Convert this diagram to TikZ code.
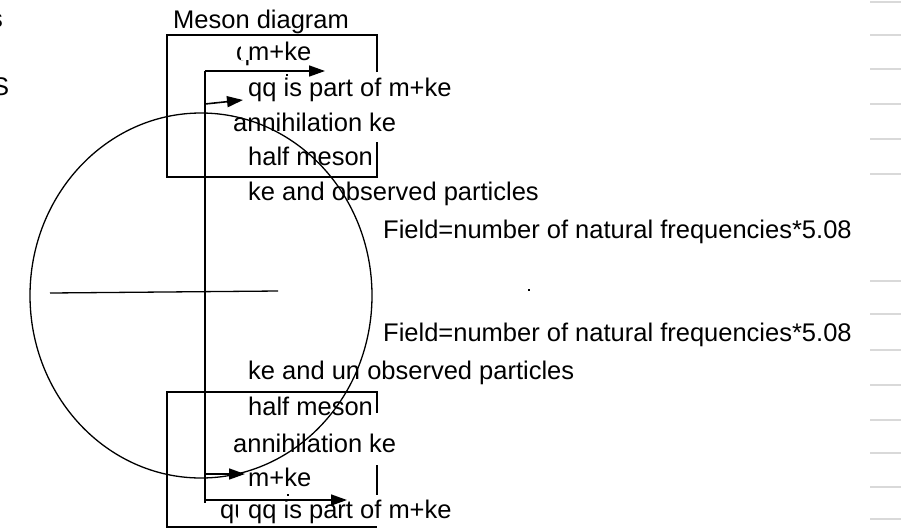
\documentclass[tikz,border=0pt]{standalone}
\usepackage{fontspec}
\setmainfont{Liberation Sans}
\usetikzlibrary{arrows.meta}
\begin{document}
\begin{tikzpicture}[x=1pt, y=-1pt, >={Triangle[length=16pt,width=11pt]},
  line join=miter,
  lbl/.style={anchor=base west, inner sep=0pt, font=\fontsize{25.5}{30}\selectfont},
  cover/.style={lbl, fill=white, inner xsep=#1},
  boxline/.style={line width=2pt},
  conn/.style={->, line width=1.6pt},
  gridmark/.style={draw=black!15, line width=1.4pt}]

  \useasboundingbox (0,0) rectangle (901,531);

  % Coordinates
  \coordinate (Vtop) at (205,71);
  \coordinate (Vkick) at (205,104);
  \coordinate (Vlow) at (205,474);
  \coordinate (Vbase) at (205,500);
  \coordinate (Vbot) at (205,503);
  \coordinate (Ctr) at (201,295.5);

  % 1. Clipped letters at the left edge
  \begin{scope}
    \clip (0,0) rectangle (40,110);
    \node[lbl] (edgeA) at (-10,27) {s};
    \node[lbl] (edgeB) at (-8,95) {S};
  \end{scope}

  % 2. Upper box (right edge broken)
  \draw[boxline] (377,72) -- (377,35) -- (167,35) -- (167,177) -- (377,177) -- (377,142);

  % 3. Lower box (right edge broken)
  \draw[boxline] (377,413) -- (377,392) -- (167,392) -- (167,527) -- (377,527);
  \draw[boxline] (377,465) -- (377,495);

  % 4. Texts
  \node[lbl] (title) at (173,28) {Meson diagram};
  \node[lbl] (hidA) at (236,60) {q};
  \node[cover=7pt] (mkeA) at (241,60) {m+ke};
  \node[lbl] (qqA) at (248,96) {qq is part of m+ke};
  \node[lbl] (annA) at (233,131) {annihilation ke};
  \node[lbl] (halfA) at (248,165) {half meson};
  \node[lbl] (obsA) at (248,200) {ke and observed particles};
  \node[lbl] (fieldA) at (383,238) {Field=number of natural frequencies*5.08};
  \node[lbl] (fieldB) at (383,341) {Field=number of natural frequencies*5.08};
  \node[lbl] (obsB) at (248,379) {ke and un observed particles};
  \node[lbl] (halfB) at (248,415) {half meson};
  \node[lbl] (annB) at (233,452) {annihilation ke};
  \node[lbl] (mkeB) at (248,486) {m+ke};
  \node[lbl] (hidB) at (220,518) {qu};
  \node[cover=10pt] (qqB) at (238,518) {qq is part of m+ke};

  % 5. Stem and arrows
  \draw[line width=2pt] (Vtop) -- (Vbot);
  \draw[conn] (Vtop) -- (325,71) coordinate (tipA);
  \draw[conn] (Vkick) -- (243,100) coordinate (tipB);
  \draw[conn] (Vlow) -- (245,474) coordinate (tipC);
  \draw[conn] (Vbase) -- (347,500) coordinate (tipD);

  % 6. Circle and cross line
  \draw[line width=1.3pt] (Ctr) ellipse [x radius=171, y radius=182.5];
  \draw[line width=1.3pt] (50,293) -- (278,291);

  % 7. Stray marks
  \fill (286,74) rectangle (288,76);
  \fill (287,494) rectangle (289,496);
  \fill (528,289) rectangle (530,291);

  % 8. Grey ticks at the right margin
  \foreach \gy in {2,35,69,104,139,174,281,314,350,385,420,453,487,519}
    \draw[gridmark] (870,\gy) -- (901,\gy);

\end{tikzpicture}
\end{document}
